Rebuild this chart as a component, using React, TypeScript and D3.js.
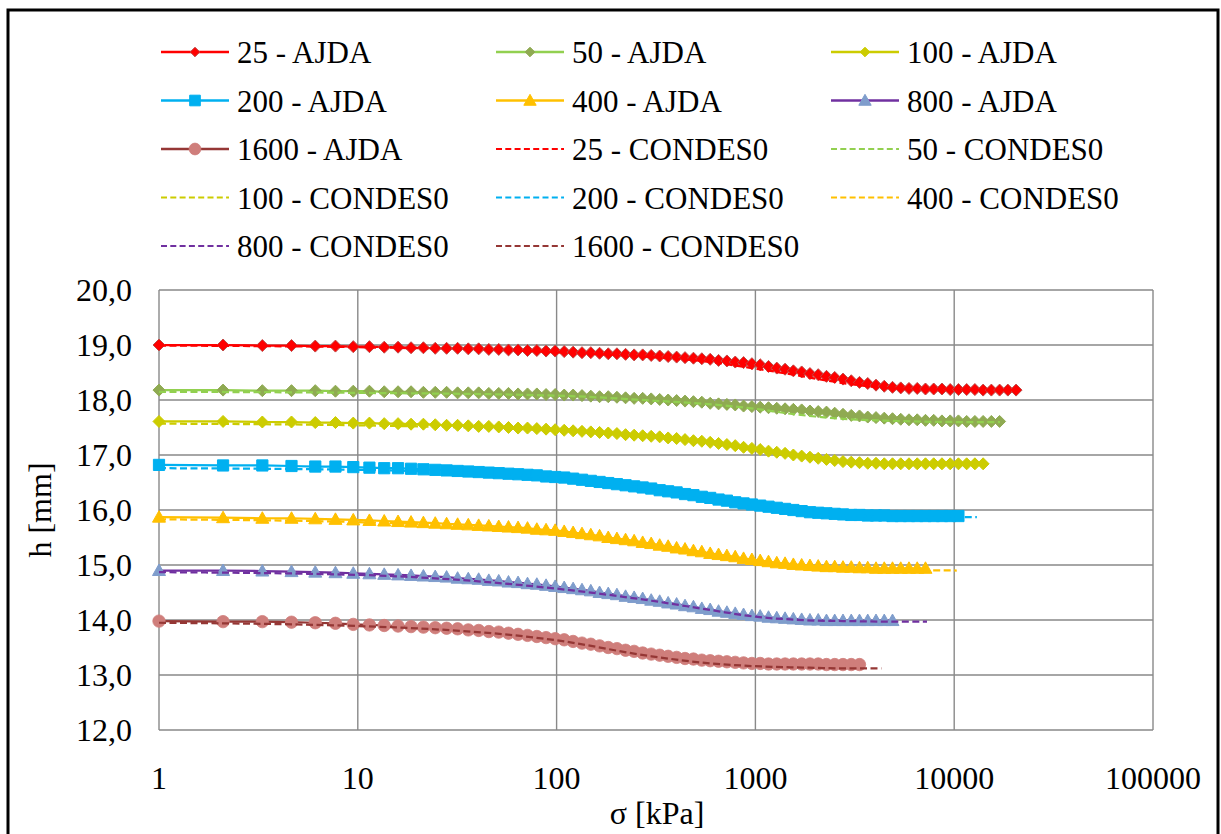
import React from "react";
import * as d3 from "d3";

// Shared loading steps (σ, kPa)
const SIGMA = [
  1, 2.1, 3.31, 4.64, 6.11, 7.72, 9.49, 11.44, 13.58, 15.94,
  18.53, 21.38, 24.52, 27.97, 31.77, 35.95, 40.55, 45.6, 51.16, 57.28,
  64.0, 71.4, 79.54, 88.5, 98.35, 109.2, 121.1, 134.2, 148.6, 164.5,
  181.9, 201.1, 222.3, 245.5, 271.0, 299.1, 330.0, 364.0, 401.5, 442.6,
  487.9, 537.6, 592.4, 652.6, 718.9, 791.8, 872.0, 960.2, 1057, 1164,
  1281, 1410, 1552, 1709, 1881, 2070, 2278, 2506, 2758, 3035,
  3339, 3674, 4043, 4448, 4894, 5384, 5923, 6517, 7170, 7887,
  8677, 9546, 10502, 11553, 12709, 13981, 15380, 16919, 18612, 20474,
];

const H25 = [
  19.0, 19.0, 18.99, 18.99, 18.98, 18.98, 18.97, 18.97, 18.96, 18.96,
  18.95, 18.95, 18.94, 18.94, 18.94, 18.93, 18.93, 18.92, 18.92, 18.91,
  18.91, 18.9, 18.9, 18.89, 18.89, 18.88, 18.87, 18.86, 18.86, 18.85,
  18.84, 18.84, 18.83, 18.82, 18.82, 18.81, 18.8, 18.79, 18.78, 18.77,
  18.76, 18.75, 18.74, 18.72, 18.71, 18.69, 18.68, 18.66, 18.64, 18.61,
  18.58, 18.56, 18.53, 18.51, 18.48, 18.46, 18.43, 18.41, 18.38, 18.35,
  18.32, 18.3, 18.27, 18.25, 18.23, 18.22, 18.21, 18.21, 18.2, 18.2,
  18.2, 18.19, 18.19, 18.19, 18.19, 18.18, 18.18, 18.18, 18.18, 18.18,
];
const H50 = [
  18.18, 18.18, 18.17, 18.17, 18.17, 18.16, 18.16, 18.16, 18.15, 18.15,
  18.15, 18.14, 18.14, 18.14, 18.13, 18.13, 18.13, 18.12, 18.12, 18.12,
  18.11, 18.11, 18.11, 18.1, 18.1, 18.09, 18.09, 18.08, 18.07, 18.06,
  18.06, 18.05, 18.04, 18.03, 18.03, 18.02, 18.01, 18.0, 17.99, 17.98,
  17.97, 17.96, 17.94, 17.93, 17.92, 17.91, 17.89, 17.88, 17.87, 17.86,
  17.85, 17.84, 17.83, 17.82, 17.8, 17.79, 17.78, 17.76, 17.74, 17.72,
  17.71, 17.69, 17.68, 17.67, 17.66, 17.65, 17.64, 17.64, 17.63, 17.63,
  17.62, 17.62, 17.62, 17.61, 17.61, 17.61, 17.61, 17.61,
];
const H100 = [
  17.61, 17.61, 17.6, 17.6, 17.59, 17.59, 17.58, 17.58, 17.57, 17.57,
  17.56, 17.56, 17.55, 17.54, 17.54, 17.53, 17.52, 17.52, 17.51, 17.5,
  17.49, 17.49, 17.48, 17.47, 17.46, 17.45, 17.44, 17.43, 17.42, 17.41,
  17.4, 17.39, 17.37, 17.36, 17.35, 17.34, 17.33, 17.31, 17.3, 17.28,
  17.26, 17.25, 17.23, 17.21, 17.19, 17.17, 17.14, 17.12, 17.1, 17.07,
  17.05, 17.03, 17.0, 16.98, 16.96, 16.94, 16.92, 16.9, 16.88, 16.87,
  16.86, 16.85, 16.85, 16.84, 16.84, 16.84, 16.84, 16.84, 16.84, 16.84,
  16.84, 16.84, 16.84, 16.84, 16.84, 16.84,
];
const H200 = [
  16.82, 16.81, 16.81, 16.8, 16.79, 16.79, 16.78, 16.77, 16.76, 16.76,
  16.75, 16.74, 16.73, 16.72, 16.71, 16.7, 16.69, 16.68, 16.67, 16.66,
  16.65, 16.64, 16.63, 16.61, 16.6, 16.59, 16.57, 16.55, 16.53, 16.51,
  16.49, 16.47, 16.45, 16.43, 16.41, 16.39, 16.36, 16.34, 16.32, 16.29,
  16.27, 16.24, 16.22, 16.19, 16.17, 16.14, 16.12, 16.1, 16.08, 16.06,
  16.04, 16.02, 16.0, 15.98, 15.96, 15.95, 15.94, 15.93, 15.92, 15.91,
  15.91, 15.9, 15.9, 15.9, 15.89, 15.89, 15.89, 15.89, 15.89, 15.89,
  15.89, 15.89, 15.89,
];
const H400 = [
  15.87, 15.86, 15.85, 15.85, 15.84, 15.83, 15.82, 15.81, 15.8, 15.79,
  15.78, 15.77, 15.76, 15.75, 15.74, 15.73, 15.72, 15.71, 15.7, 15.69,
  15.68, 15.67, 15.65, 15.64, 15.63, 15.61, 15.59, 15.57, 15.55, 15.53,
  15.5, 15.48, 15.46, 15.44, 15.41, 15.39, 15.36, 15.34, 15.31, 15.29,
  15.26, 15.24, 15.21, 15.19, 15.17, 15.15, 15.12, 15.1, 15.08, 15.06,
  15.04, 15.03, 15.01, 15.0, 14.99, 14.98, 14.97, 14.97, 14.96, 14.96,
  14.95, 14.95, 14.94, 14.94, 14.94, 14.94, 14.94, 14.94, 14.94,
];
const H800 = [
  14.9, 14.9, 14.89, 14.88, 14.87, 14.86, 14.85, 14.84, 14.83, 14.82,
  14.81, 14.8, 14.79, 14.78, 14.76, 14.75, 14.74, 14.72, 14.71, 14.69,
  14.68, 14.66, 14.65, 14.63, 14.61, 14.59, 14.57, 14.55, 14.53, 14.5,
  14.48, 14.46, 14.43, 14.41, 14.39, 14.36, 14.34, 14.31, 14.29, 14.26,
  14.24, 14.21, 14.19, 14.16, 14.14, 14.12, 14.1, 14.08, 14.07, 14.05,
  14.04, 14.03, 14.02, 14.01, 14.0, 14.0, 13.99, 13.99, 13.99, 13.99,
  13.99, 13.99, 13.99, 13.99, 13.99,
];
const H1600 = [
  13.98, 13.97, 13.97, 13.96, 13.95, 13.94, 13.92, 13.91, 13.9, 13.89,
  13.88, 13.87, 13.86, 13.85, 13.84, 13.82, 13.81, 13.79, 13.78, 13.76,
  13.74, 13.72, 13.7, 13.68, 13.66, 13.64, 13.61, 13.58, 13.56, 13.53,
  13.5, 13.48, 13.45, 13.43, 13.4, 13.38, 13.36, 13.34, 13.32, 13.3,
  13.29, 13.27, 13.26, 13.25, 13.24, 13.23, 13.22, 13.21, 13.21, 13.2,
  13.2, 13.2, 13.2, 13.2, 13.2, 13.2, 13.19, 13.19, 13.19, 13.19,
  13.19,
];

// CONDES0 curves (dashed)
const C25_S = [1, 10, 100, 300, 600, 1000, 1500, 2000, 3000, 5000, 10000, 20000];
const C25_H = [18.99, 18.96, 18.87, 18.78, 18.69, 18.57, 18.47, 18.39, 18.29, 18.21, 18.19, 18.18];
const C50_S = [1, 10, 100, 300, 600, 1000, 1500, 2000, 3000, 5000, 10000, 17000];
const C50_H = [18.15, 18.13, 18.08, 17.99, 17.92, 17.84, 17.75, 17.7, 17.65, 17.62, 17.6, 17.6];
const C100_S = [1, 10, 100, 300, 600, 1000, 1500, 2000, 3000, 5000, 10000, 14000];
const C100_H = [17.57, 17.54, 17.44, 17.33, 17.21, 17.09, 16.99, 16.93, 16.87, 16.84, 16.83, 16.83];
const C200_S = [1, 10, 100, 300, 600, 1000, 1500, 2000, 3000, 5000, 10000, 13000];
const C200_H = [16.76, 16.73, 16.58, 16.38, 16.21, 16.08, 15.99, 15.94, 15.9, 15.88, 15.87, 15.87];
const C400_S = [1, 10, 100, 300, 600, 1000, 1500, 2000, 3000, 5000, 10300];
const C400_H = [15.83, 15.78, 15.6, 15.36, 15.18, 15.07, 15.0, 14.96, 14.93, 14.91, 14.9];
const C800_S = [1, 10, 100, 300, 600, 1000, 1500, 2000, 3000, 5000, 7300];
const C800_H = [14.87, 14.82, 14.57, 14.35, 14.18, 14.06, 14.01, 13.99, 13.98, 13.97, 13.97];
const C1600_S = [1, 10, 100, 300, 600, 1000, 1500, 2000, 3000, 4300];
const C1600_H = [13.95, 13.89, 13.63, 13.34, 13.21, 13.16, 13.14, 13.13, 13.12, 13.12];

const X_TICKS = [1, 10, 100, 1000, 10000, 100000];
const X_TICK_LABELS = ["1", "10", "100", "1000", "10000", "100000"];
const Y_TICKS = [12, 13, 14, 15, 16, 17, 18, 19, 20];
const Y_TICK_LABELS = ["12,0", "13,0", "14,0", "15,0", "16,0", "17,0", "18,0", "19,0", "20,0"];

type MarkerKind = "diamond" | "square" | "triangle" | "circle";

const AJDA_SERIES: {
  name: string; h: number[]; line: string; fill: string; stroke: string; marker: MarkerKind;
}[] = [
  { name: "25 - AJDA", h: H25, line: "#FF0000", fill: "#FF0000", stroke: "#BE4A47", marker: "diamond" },
  { name: "50 - AJDA", h: H50, line: "#92D050", fill: "#8FAA52", stroke: "#8FAA52", marker: "diamond" },
  { name: "100 - AJDA", h: H100, line: "#CCCC00", fill: "#CCCC00", stroke: "#CCCC00", marker: "diamond" },
  { name: "200 - AJDA", h: H200, line: "#00B0F0", fill: "#00B0F0", stroke: "#00B0F0", marker: "square" },
  { name: "400 - AJDA", h: H400, line: "#FFC000", fill: "#FFC000", stroke: "#FFC000", marker: "triangle" },
  { name: "800 - AJDA", h: H800, line: "#7030A0", fill: "#7F9DCC", stroke: "#7F9DCC", marker: "triangle" },
  { name: "1600 - AJDA", h: H1600, line: "#953735", fill: "#CF7E7B", stroke: "#CF7E7B", marker: "circle" },
];

const CONDES_SERIES = [
  { name: "25 - CONDES0", s: C25_S, h: C25_H, color: "#FF0000" },
  { name: "50 - CONDES0", s: C50_S, h: C50_H, color: "#92D050" },
  { name: "100 - CONDES0", s: C100_S, h: C100_H, color: "#CCCC00" },
  { name: "200 - CONDES0", s: C200_S, h: C200_H, color: "#00B0F0" },
  { name: "400 - CONDES0", s: C400_S, h: C400_H, color: "#FFC000" },
  { name: "800 - CONDES0", s: C800_S, h: C800_H, color: "#7030A0" },
  { name: "1600 - CONDES0", s: C1600_S, h: C1600_H, color: "#953735" },
];

const FONT = "'Liberation Serif', 'Times New Roman', serif";
const W = 1221;
const H = 834;
const PL = 159, PR = 1153, PT = 290, PB = 730;

function markerPath(kind: MarkerKind, s = 1): string {
  if (kind === "diamond") return `M0,${-6 * s}L${6 * s},0L0,${6 * s}L${-6 * s},0Z`;
  if (kind === "square") return `M${-5.6 * s},${-5.6 * s}H${5.6 * s}V${5.6 * s}H${-5.6 * s}Z`;
  return `M0,${-6.5 * s}L${6.5 * s},${5 * s}H${-6.5 * s}Z`;
}

export default function App() {
  const x = d3.scaleLog().domain([1, 100000]).range([PL, PR]);
  const y = d3.scaleLinear().domain([12, 20]).range([PB, PT]);

  const solidLine = d3.line<[number, number]>().x((d) => x(d[0])).y((d) => y(d[1]));
  const dashLine = d3
    .line<[number, number]>()
    .x((d) => x(d[0]))
    .y((d) => y(d[1]))
    .curve(d3.curveMonotoneX);

  const legendItems = [
    ...AJDA_SERIES.map((s) => ({ kind: "solid" as const, ...s })),
    ...CONDES_SERIES.map((s) => ({ kind: "dash" as const, ...s })),
  ];
  const colX = [161, 496, 831];

  const renderMarker = (kind: MarkerKind, cx: number, cy: number, fill: string, stroke: string, s: number, key?: any) =>
    kind === "circle" ? (
      <circle key={key} cx={cx} cy={cy} r={6.2 * s} fill={fill} stroke={stroke} strokeWidth={0.8} />
    ) : (
      <path
        key={key}
        d={markerPath(kind, s)}
        transform={`translate(${cx},${cy})`}
        fill={fill}
        stroke={stroke}
        strokeWidth={1}
      />
    );

  return (
    <div style={{ position: "absolute", left: 0, top: 0 }}>
      <svg width={W} height={H} style={{ display: "block", background: "#fff" }}>
        <rect x={0} y={0} width={W} height={H} fill="#fff" />
        {/* outer frame */}
        <rect x={8} y={10} width={1210} height={860} fill="none" stroke="#000" strokeWidth={3} />

        {/* gridlines */}
        {Y_TICKS.map((t) => (
          <line key={"gy" + t} x1={PL} x2={PR} y1={y(t)} y2={y(t)} stroke="#898989" strokeWidth={1.4} />
        ))}
        {X_TICKS.map((t) => (
          <line key={"gx" + t} x1={x(t)} x2={x(t)} y1={PT} y2={PB} stroke="#898989" strokeWidth={1.4} />
        ))}

        {/* tick labels */}
        {Y_TICKS.map((t, i) => (
          <text key={"ly" + t} x={132} y={y(t) + 11} textAnchor="end" fontFamily={FONT} fontSize={32} fill="#000">
            {Y_TICK_LABELS[i]}
          </text>
        ))}
        {X_TICKS.map((t, i) => (
          <text key={"lx" + t} x={x(t)} y={789} textAnchor="middle" fontFamily={FONT} fontSize={32} fill="#000">
            {X_TICK_LABELS[i]}
          </text>
        ))}

        {/* axis titles */}
        <text x={657} y={824} textAnchor="middle" fontFamily={FONT} fontSize={32} fill="#000">
          σ [kPa]
        </text>
        <text
          transform={`translate(51,510) rotate(-90)`}
          textAnchor="middle"
          fontFamily={FONT}
          fontSize={32}
          fill="#000"
        >
          h [mm]
        </text>

        {/* AJDA series */}
        {AJDA_SERIES.map((s) => {
          const pts: [number, number][] = s.h.map((v, i) => [SIGMA[i], v]);
          return (
            <g key={s.name}>
              <path d={solidLine(pts) || ""} fill="none" stroke={s.line} strokeWidth={2.25} />
              {pts.map((p, i) => renderMarker(s.marker, x(p[0]), y(p[1]), s.fill, s.stroke, 1, i))}
            </g>
          );
        })}

        {/* CONDES0 series */}
        {CONDES_SERIES.map((s) => {
          const pts: [number, number][] = s.h.map((v, i) => [s.s[i], v]);
          return (
            <path
              key={s.name}
              d={dashLine(pts) || ""}
              fill="none"
              stroke={s.color}
              strokeWidth={2.25}
              strokeDasharray="7,3.5"
            />
          );
        })}

        {/* legend */}
        {legendItems.map((it, i) => {
          const col = i % 3;
          const row = Math.floor(i / 3);
          const x0 = colX[col];
          const cy = 52 + row * 48.5;
          const a = it as any;
          return (
            <g key={"lg" + it.name}>
              {it.kind === "solid" ? (
                <>
                  <line x1={x0} x2={x0 + 68} y1={cy} y2={cy} stroke={a.line} strokeWidth={2.6} />
                  {renderMarker(a.marker, x0 + 34, cy, a.fill, a.stroke, a.marker === "diamond" ? 0.8 : 0.95)}
                </>
              ) : (
                <line
                  x1={x0}
                  x2={x0 + 68}
                  y1={cy}
                  y2={cy}
                  stroke={a.color}
                  strokeWidth={2.2}
                  strokeDasharray="6,3.3"
                />
              )}
              <text x={x0 + 76} y={cy + 11} fontFamily={FONT} fontSize={31} fill="#000">
                {it.name}
              </text>
            </g>
          );
        })}
      </svg>
    </div>
  );
}
